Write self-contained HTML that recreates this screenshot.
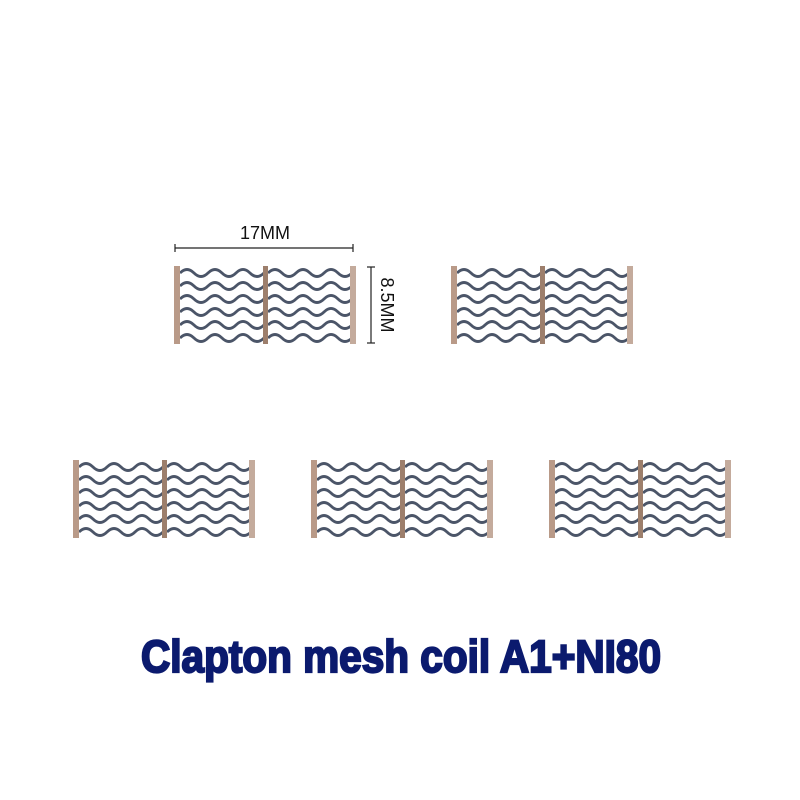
<!DOCTYPE html>
<html><head><style>
html,body{margin:0;padding:0;background:#fff;width:800px;height:800px;overflow:hidden}
</style></head><body>
<svg width="800" height="800" viewBox="0 0 800 800" xmlns="http://www.w3.org/2000/svg">
<defs>
<path id="w" d="M0 0 q7 -7 14 0 t14 0 t14 0 t14 0 t14 0 t14 0" fill="none" stroke="#4b5568" stroke-width="2.8"/>
<g id="coil">
  <g>
    <use href="#w" x="6" y="7"/><use href="#w" x="6" y="20"/><use href="#w" x="6" y="33"/>
    <use href="#w" x="6" y="46"/><use href="#w" x="6" y="59"/><use href="#w" x="6" y="72"/>
    <use href="#w" x="94" y="7"/><use href="#w" x="94" y="20"/><use href="#w" x="94" y="33"/>
    <use href="#w" x="94" y="46"/><use href="#w" x="94" y="59"/><use href="#w" x="94" y="72"/>
  </g>
  <rect x="0" y="0" width="6" height="78" fill="#b99a88"/>
  <rect x="89" y="0" width="5" height="78" fill="#9d7f6c"/>
  <rect x="176" y="0" width="6" height="78" fill="#c4ab9c"/>
</g>
</defs>
<use href="#coil" x="174" y="266"/>
<use href="#coil" x="451" y="266"/>
<use href="#coil" x="73" y="460"/>
<use href="#coil" x="311" y="460"/>
<use href="#coil" x="549" y="460"/>
<g stroke="#222" stroke-width="1.2">
<line x1="175" y1="248" x2="353" y2="248"/>
<line x1="175" y1="244" x2="175" y2="252"/>
<line x1="353" y1="244" x2="353" y2="252"/>
<line x1="371" y1="267" x2="371" y2="343"/>
<line x1="367" y1="267" x2="375" y2="267"/>
<line x1="367" y1="343" x2="375" y2="343"/>
</g>
<text x="265" y="239" text-anchor="middle" font-family="Liberation Sans, sans-serif" font-size="18" fill="#111">17MM</text>
<text transform="translate(381,305) rotate(90)" text-anchor="middle" font-family="Liberation Sans, sans-serif" font-size="18" fill="#111">8.5MM</text>
<text x="401" y="672" text-anchor="middle" font-family="Liberation Sans, sans-serif" font-weight="bold" font-size="45" fill="#0b1a6e" stroke="#0b1a6e" stroke-width="2.2" textLength="520" lengthAdjust="spacingAndGlyphs">Clapton mesh coil A1+NI80</text>
</svg>
</body></html>
